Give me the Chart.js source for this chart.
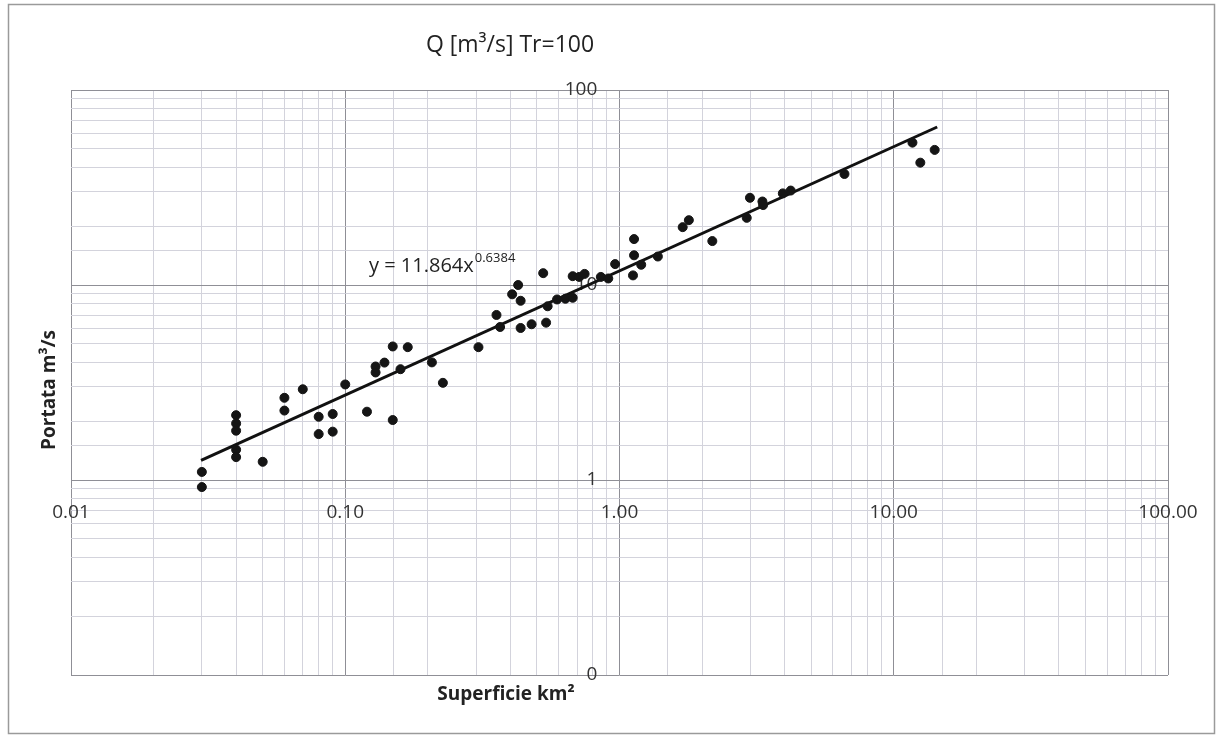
<!DOCTYPE html>
<html>
<head>
<meta charset="utf-8">
<title>Q [m³/s] Tr=100</title>
<script src="https://cdn.jsdelivr.net/npm/chart.js@4"></script>
<style>
  body { margin: 0; background: #fff; }
  #wrap { width: 1223px; height: 738px; position: relative; }
</style>
</head>
<body>
<div id="wrap"><canvas id="chart-q100" width="1223" height="738"></canvas></div>
<script>
// Q [m3/s] Tr=100 – portata vs superficie (log-log)

// superficie bacino [km2]
const areaKm2 = [
  0.030, 0.030, 0.040, 0.040, 0.040, 0.040, 0.040, 0.050, 0.060, 0.060,
  0.070, 0.080, 0.080, 0.090, 0.090, 0.100, 0.120, 0.149, 0.149, 0.169,
  0.129, 0.129, 0.139, 0.159, 0.207, 0.227, 0.306, 0.356, 0.367, 0.406,
  0.427, 0.436, 0.436, 0.478, 0.527, 0.540, 0.547, 0.592, 0.635, 0.675,
  0.675, 0.713, 0.746, 0.855, 0.910, 0.964, 1.12, 1.13, 1.13, 1.20,
  1.38, 1.70, 1.79, 2.18, 2.91, 2.99, 3.32, 3.34, 3.94, 4.21,
  6.61, 11.7, 12.5, 14.1
];

// portata [m3/s]
const portata = [
  1.10, 0.92, 2.15, 1.95, 1.79, 1.43, 1.31, 1.24, 2.64, 2.27,
  2.92, 2.11, 1.72, 2.18, 1.77, 3.09, 2.24, 2.03, 4.84, 4.80,
  3.82, 3.56, 4.00, 3.70, 4.01, 3.15, 4.80, 7.02, 6.09, 8.96,
  10.0, 8.30, 6.02, 6.29, 11.5, 6.41, 7.78, 8.43, 8.50, 8.60,
  11.1, 11.0, 11.4, 11.0, 10.8, 12.8, 11.2, 14.2, 17.2, 12.7,
  14.0, 19.8, 21.5, 16.8, 22.1, 28.0, 26.8, 25.7, 29.5, 30.5,
  37.1, 53.7, 42.4, 49.3
];

// linea di tendenza (estremi)
const trendX = [0.0298, 14.4];
const trendY = [1.26, 64.6];

const equationText = "y = 11.864x";
const equationExp = "0.6384";

const xTickFmt = (v) => v.toFixed(2);   // 0.01 0.10 1.00 10.00 100.00
const yTickFmt = (v) => v.toFixed(0);   // 100 10 1 0

function isDecade(v) {
  const l = Math.log10(v);
  return Math.abs(l - Math.round(l)) < 1e-6;
}

const MAJOR = "#8f8f96";
const MINOR = "#d3d3dc";

// testi extra: cornice, titolo, titoli assi, equazione
const extraText = {
  id: "extraText",
  beforeDraw(chart) {
    const c = chart.ctx;
    c.save();
    c.fillStyle = "#fff";
    c.fillRect(0, 0, chart.width, chart.height);
    c.strokeStyle = "#9a9a9a";
    c.lineWidth = 1.5;
    c.strokeRect(8.5, 4.5, 1206, 729);
    c.restore();
  },
  afterDraw(chart) {
    const c = chart.ctx;
    c.save();
    c.fillStyle = "#222";
    c.textBaseline = "middle";

    c.font = "23px 'Open Sans'";
    c.textAlign = "center";
    c.fillText("Q [m³/s] Tr=100", 510, 45);

    c.font = "bold 19px 'Open Sans'";
    c.fillText("Superficie km²", 506, 695);

    c.save();
    c.translate(50, 390);
    c.rotate(-Math.PI / 2);
    c.fillText("Portata m³/s", 0, 0);
    c.restore();

    // equazione della linea di tendenza
    c.textAlign = "left";
    c.font = "20px 'Open Sans'";
    c.fillText(equationText, 369, 266);
    const w = c.measureText(equationText).width;
    c.font = "13px 'Open Sans'";
    c.fillText(equationExp, 369 + w + 1, 258);
    c.restore();
  }
};

const ctx = document.getElementById("chart-q100").getContext("2d");

new Chart(ctx, {
  type: "scatter",
  data: {
    datasets: [
      {
        label: "Q Tr=100",
        data: areaKm2.map((a, i) => ({ x: a, y: portata[i] })),
        backgroundColor: "#151515",
        borderColor: "#151515",
        pointRadius: 4.5,
        pointHoverRadius: 4.5
      },
      {
        label: "Potenza",
        data: trendX.map((a, i) => ({ x: a, y: trendY[i] })),
        showLine: true,
        borderColor: "#111",
        borderWidth: 3,
        pointRadius: 0,
        fill: false
      }
    ]
  },
  options: {
    responsive: false,
    devicePixelRatio: 1,
    animation: false,
    layout: { padding: { left: 71, right: 55, top: 90, bottom: 63 } },
    plugins: {
      legend: { display: false },
      title: { display: false },
      tooltip: { enabled: false }
    },
    scales: {
      x: {
        type: "logarithmic",
        min: 0.01,
        max: 100,
        position: { y: 1 },
        border: { color: MAJOR, width: 1 },
        grid: {
          drawTicks: false,
          color: (c) => (c.tick && isDecade(c.tick.value)) ? MAJOR : MINOR,
          lineWidth: 1
        },
        ticks: {
          autoSkip: false,
          maxRotation: 0,
          padding: 21,
          color: "#333",
          font: { family: "'Open Sans'", size: 19 },
          callback: (v) => isDecade(v) ? xTickFmt(v) : ""
        }
      },
      y: {
        type: "logarithmic",
        min: 0.1,
        max: 100,
        // etichette appena a sinistra della verticale x = 1
        position: { x: 0.83 },
        border: { display: false },
        grid: {
          drawTicks: false,
          color: (c) => (c.tick && isDecade(c.tick.value)) ? MAJOR : MINOR,
          lineWidth: 1
        },
        ticks: {
          autoSkip: false,
          color: "#333",
          font: { family: "'Open Sans'", size: 19 },
          callback: (v) => isDecade(v) ? yTickFmt(v) : ""
        }
      }
    }
  },
  plugins: [extraText]
});
</script>
</body>
</html>
